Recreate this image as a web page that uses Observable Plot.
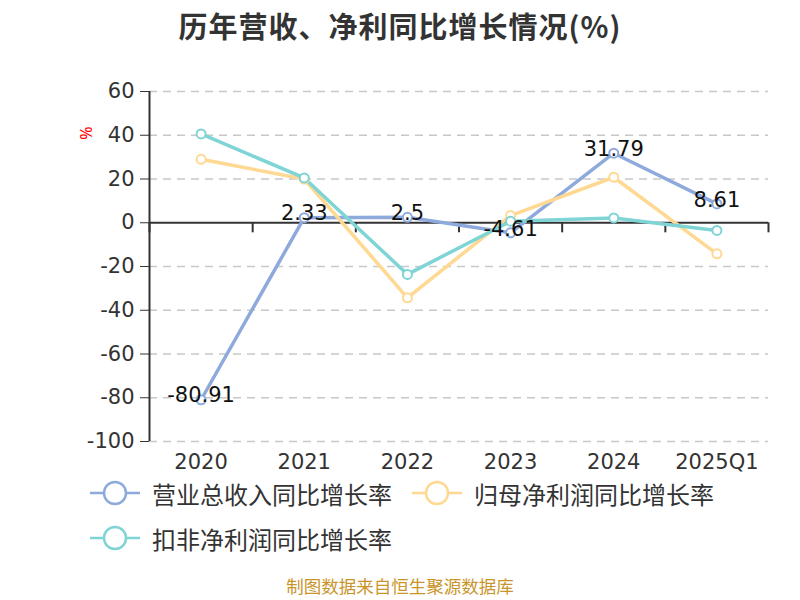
<!DOCTYPE html>
<html>
<head>
<meta charset="utf-8">
<script src="https://cdn.jsdelivr.net/npm/d3@7"></script>
<script src="https://cdn.jsdelivr.net/npm/@observablehq/plot@0.6"></script>
<style>
  html, body { margin: 0; padding: 0; background: #fff; }
  body { width: 800px; height: 600px; position: relative; overflow: hidden;
         font-family: "Noto Sans", "Noto Sans CJK SC", sans-serif; }
  #title { position: absolute; left: 0; width: 800px; top: 4px; text-align: center;
           font-size: 29px; font-weight: bold; color: #333; font-family: "Noto Sans CJK SC", sans-serif; letter-spacing: 1px; }
  #chart { position: absolute; left: 0; top: 0; }
  #unit { position: absolute; left: 79px; top: 122px; color: #ff0000; font-size: 16px;
          transform: rotate(-90deg); transform-origin: center; }
  .leg { position: absolute; display: flex; align-items: center; font-size: 24px; color: #333;
         font-family: "Noto Sans CJK SC", sans-serif; white-space: nowrap; }
  .leg svg { margin-right: 12px; }
  #caption { position: absolute; left: 0; width: 800px; top: 577px; height: 18px; line-height: 18px; text-align: center;
             font-size: 17.5px; color: #C9952B; font-family: "Noto Sans CJK SC", sans-serif; }
</style>
</head>
<body>
<div id="title">历年营收、净利同比增长情况(%)</div>
<div id="chart"></div>
<div id="unit">%</div>
<div id="legend"></div>
<div id="caption">制图数据来自恒生聚源数据库</div>
<script>
const categories = ["2020", "2021", "2022", "2023", "2024", "2025Q1"];
const seriesNames = ["营业总收入同比增长率", "归母净利润同比增长率", "扣非净利润同比增长率"];
const seriesColors = ["#8EAADC", "#FFD892", "#7FD4D6"];
const revenueGrowth = [-80.91, 2.33, 2.5, -4.61, 31.79, 8.61];
const netProfitGrowth = [29.0, 20.0, -34.3, 3.3, 20.8, -14.2];
const deductedProfitGrowth = [40.6, 20.5, -23.6, 0.7, 2.2, -3.5];
const yTicks = [60, 40, 20, 0, -20, -40, -60, -80, -100];

const seriesValues = [revenueGrowth, netProfitGrowth, deductedProfitGrowth];
const rows = [];
seriesValues.forEach((vals, s) => vals.forEach((v, i) => rows.push({s, i, v})));
const boundaries = d3.range(categories.length + 1).map(k => k - 0.5);

const marks = [
  Plot.gridY(yTicks.filter(t => t !== 0), {stroke: "#c8c8c8", strokeOpacity: 1, strokeWidth: 1.5, strokeDasharray: "8,6"}),
  Plot.ruleY([0], {stroke: "#333", strokeWidth: 2}),
  Plot.ruleX([-0.5], {y1: -100, y2: 60, stroke: "#333", strokeWidth: 2}),
  Plot.ruleX(boundaries, {y1: 0, y2: -4.6, stroke: "#333", strokeWidth: 2}),
  Plot.axisY({ticks: yTicks, tickSize: 9, tickPadding: 6, fontSize: 21, color: "#333", label: null, tickFormat: d => String(d)}),
  Plot.axisX({ticks: d3.range(categories.length), tickFormat: i => categories[i], tickSize: 0, tickPadding: 13, fontSize: 21, color: "#333", label: null})
];
for (let s = 0; s < 3; s++) {
  marks.push(Plot.line(rows.filter(d => d.s === s), {x: "i", y: "v", stroke: seriesColors[s], strokeWidth: 3.5}));
}
for (let s = 0; s < 3; s++) {
  marks.push(Plot.dot(rows.filter(d => d.s === s), {x: "i", y: "v", r: 4.5, stroke: seriesColors[s], strokeWidth: 2, fill: "#fff"}));
}
marks.push(Plot.text(rows.filter(d => d.s === 0), {x: "i", y: "v", text: d => String(d.v), fontSize: 21, fill: "#111", dy: -4, textAnchor: "middle", lineAnchor: "middle"}));

const chart = Plot.plot({
  width: 800,
  height: 500,
  marginTop: 91,
  marginBottom: 59,
  marginLeft: 149,
  marginRight: 32,
  style: {fontFamily: "'DejaVu Sans', 'Noto Sans CJK SC', sans-serif", background: "transparent"},
  x: {type: "linear", domain: [-0.5, categories.length - 0.5]},
  y: {domain: [-100, 60]},
  marks
});
document.getElementById("chart").appendChild(chart);

const legendPos = [[90, 493], [412, 493], [90, 538]];
const legend = document.getElementById("legend");
seriesNames.forEach((name, s) => {
  const el = document.createElement("div");
  el.className = "leg";
  el.style.left = legendPos[s][0] + "px";
  el.style.top = (legendPos[s][1] - 16) + "px";
  el.style.height = "32px";
  el.innerHTML = `<svg width="50" height="28"><line x1="0" y1="14" x2="50" y2="14" stroke="${seriesColors[s]}" stroke-width="2.5"/><circle cx="25" cy="14" r="11" fill="#fff" stroke="${seriesColors[s]}" stroke-width="2.5"/></svg><span>${name}</span>`;
  legend.appendChild(el);
});
</script>
</body>
</html>
